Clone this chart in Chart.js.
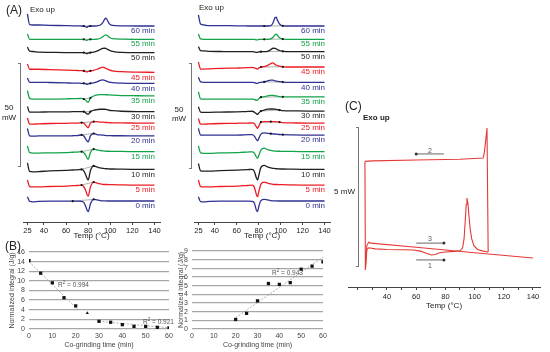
<!DOCTYPE html>
<html>
<head>
<meta charset="utf-8">
<script src="https://cdn.jsdelivr.net/npm/chart.js@4.4.0/dist/chart.umd.min.js"></script>
<style>
  body { margin: 0; background: #fff; }
  #wrap { position: relative; width: 550px; height: 352px; overflow: hidden; font-family: "Liberation Sans", Arial, sans-serif; color: #222; }
  canvas { position: absolute; left: 0; top: 0; }
  .t { position: absolute; white-space: nowrap; line-height: 1; }
  .br { position: absolute; border: 1.2px solid #777; border-left: none; width: 2px; }
</style>
</head>
<body>
<div id="wrap">
  <canvas id="aLeft" width="550" height="352"></canvas>
  <canvas id="aRight" width="550" height="352"></canvas>
  <canvas id="bLeft" width="550" height="352"></canvas>
  <canvas id="bRight" width="550" height="352"></canvas>
  <canvas id="cPanel" width="550" height="352"></canvas>

  <div class="t" style="left:6px;top:10px;transform:translateY(-50%);font-size:12px">(A)</div>
  <div class="t" style="left:30px;top:10px;transform:translateY(-50%);font-size:8px">Exo up</div>
  <div class="t" style="left:199px;top:8px;transform:translateY(-50%);font-size:8px">Exo up</div>
  <div class="br" style="left:18px;top:63px;height:102px"></div>
  <div class="t" style="left:9px;top:108px;transform:translate(-50%,-50%);font-size:8px">50</div>
  <div class="t" style="left:9px;top:118px;transform:translate(-50%,-50%);font-size:8px">mW</div>
  <div class="br" style="left:189px;top:63px;height:104px"></div>
  <div class="t" style="left:179px;top:110px;transform:translate(-50%,-50%);font-size:8px">50</div>
  <div class="t" style="left:179px;top:119px;transform:translate(-50%,-50%);font-size:8px">mW</div>

  <div class="t" style="left:5px;top:246px;transform:translateY(-50%);font-size:12px">(B)</div>
  <div class="t" style="left:58px;top:285px;transform:translateY(-50%);font-size:6.5px;color:#555">R<sup style="font-size:4.5px">2</sup> = 0.994</div>
  <div class="t" style="left:143px;top:322px;transform:translateY(-50%);font-size:6.5px;color:#555">R<sup style="font-size:4.5px">2</sup> = 0.921</div>
  <div class="t" style="left:272px;top:273px;transform:translateY(-50%);font-size:6.5px;color:#555">R<sup style="font-size:4.5px">2</sup> = 0.943</div>

  <div class="t" style="left:345px;top:106px;transform:translateY(-50%);font-size:12px">(C)</div>
  <div class="t" style="left:363px;top:118px;transform:translateY(-50%);font-size:8px;font-weight:bold">Exo up</div>
  <div class="br" style="left:356px;top:127px;height:138px"></div>
  <div class="t" style="right:195px;top:192px;transform:translateY(-50%);font-size:8px">5 mW</div>
  <div class="t" style="left:430px;top:150px;transform:translate(-50%,-50%);font-size:7px;color:#555">2</div>
  <div class="t" style="left:430px;top:238px;transform:translate(-50%,-50%);font-size:7px;color:#555">3</div>
  <div class="t" style="left:430px;top:265px;transform:translate(-50%,-50%);font-size:7px;color:#555">1</div>
</div>

<script>
// ---- panel A: DSC traces (heat flow in mW, stacked) ----
const TEMPS = [25, 27, 30, 35, 45, 60, 66, 70, 74, 76, 78, 79, 80, 82, 85, 88, 91, 93, 95, 96, 97, 99, 102, 110, 125, 140];
const TIMES = [0, 5, 10, 15, 20, 25, 30, 35, 40, 45, 50, 55, 60];
const TRACE_COLORS = ['#2e3192', '#ed1c24', '#231f20', '#13a34a', '#2e3192', '#ed1c24', '#231f20',
  '#13a34a', '#2e3192', '#ed1c24', '#231f20', '#13a34a', '#2e3192'];
const A_TICKS = [25, 40, 60, 80, 100, 120, 140];

const LEFT_BASE = [10.3, 18.1, 25.8, 34.5, 42.2, 48.5, 54.1, 61.8, 68.0, 73.4, 83.1, 89.6, 96.1];
const LEFT_DEV = [
  [2.1, -0.2, -0.4, -0.2, -0.1, -0.1, -0.1, -0.1, -0.2, -0.7, -3.0, -4.5, -5.2, -1.5, 0.8, 0.5, 0.2, 0.1, 0.1, 0.1, 0, 0, 0, 0, 0, 0],
  [2.5, -0.7, -0.9, -0.9, -0.7, -0.5, -0.3, -0.2, 0, -0.7, -3.0, -4.7, -5.4, -1.0, 1.5, 1.0, 0.6, 0.4, 0.3, 0.3, 0.3, 0.2, 0.2, 0.1, 0, 0],
  [3.2, -1.0, -1.2, -1.1, -0.7, -0.5, -0.3, -0.2, 0, -0.7, -3.0, -4.4, -5.2, -0.7, 1.7, 1.2, 0.7, 0.5, 0.4, 0.3, 0.3, 0.2, 0.2, 0.1, 0, 0],
  [2.8, -0.5, -0.7, -0.7, -0.6, -0.5, -0.3, -0.2, 0, -0.5, -2.0, -3.2, -3.7, -0.5, 1.2, 0.9, 0.5, 0.4, 0.3, 0.2, 0.2, 0.2, 0.1, 0.1, 0, 0],
  [3.7, 0, -0.1, 0, 0, 0, 0.1, 0.2, 0.5, 0, -1.7, -2.5, -2.9, 0, 1.2, 0.7, 0.5, 0.4, 0.3, 0.2, 0.2, 0.2, 0.1, 0.1, 0, 0],
  [2.5, -0.5, -0.5, -0.4, -0.2, -0.1, 0, 0, 0.2, 0, -1.2, -1.9, -2.2, 0, 0.7, 0.7, 0.5, 0.5, 0.4, 0.3, 0.3, 0.2, 0.1, 0.1, 0, 0],
  [2.5, -0.2, -0.2, -0.2, -0.1, -0.1, 0, 0, 0, 0, -0.7, -1.1, -1.2, 0, 0.7, 1.0, 1.2, 1.2, 1.2, 1.1, 1.0, 0.7, 0.5, 0.2, 0, 0],
  [2.6, -1.2, -1.5, -1.5, -1.5, -1.4, -1.3, -1.3, -1.2, -1.5, -2.2, -2.8, -3.1, -1.0, 0, 0.5, 0.7, 0.7, 0.7, 0.6, 0.6, 0.5, 0.4, 0.2, 0.1, 0],
  [2.6, 0.5, 0.5, 0.5, 0.4, 0.2, 0.1, 0.1, 0, 0, -0.3, -0.5, -0.3, 0, 0.2, 0.7, 1.5, 1.7, 1.5, 1.2, 1.0, 0.6, 0.3, 0.1, 0, 0],
  [4.1, 1.5, 1.5, 1.5, 1.3, 1.1, 1.0, 0.9, 0.8, 0.7, 0.3, 0.2, 0.4, 0.7, 1.0, 1.5, 2.2, 2.5, 2.2, 2.0, 1.7, 1.2, 0.7, 0.3, 0.1, 0],
  [2.7, 0.7, 0.5, 0.2, 0.1, 0, 0, 0, 0, 0, -0.4, -0.5, -0.3, 0, 0.2, 0.7, 1.5, 2.0, 2.1, 2.0, 1.7, 1.2, 0.6, 0.1, 0, 0],
  [2.6, 0, 0, 0, 0, 0, 0, 0, 0, 0, -0.4, -0.5, -0.2, 0, 0, 0.1, 0.5, 1.2, 2.0, 2.2, 2.0, 1.0, 0.3, 0.1, 0, 0],
  [5.9, 0.7, 0.5, 0.5, 0.3, 0.2, 0.1, 0.1, 0, 0, -0.5, -0.6, -0.2, 0, 0, 0.1, 0.5, 1.5, 3.4, 3.9, 3.2, 1.2, 0.3, 0.1, 0, 0]
];
const LEFT_MARKS = [[66, 85], [74, 85], [74, 85], [74, 85], [74, 85], [74, 85],
  [76, 82], [76, 82], [76, 82], [76, 82], [76, 82], [76, 82], [76, 82]];

const RIGHT_BASE = [10.3, 18.1, 25.8, 34.5, 42.6, 48.5, 54.4, 61.4, 68.5, 76.0, 83.5, 89.6, 96.1];
const RIGHT_DEV = [
  [2.1, -0.3, -0.4, -0.2, -0.1, -0.1, -0.1, -0.1, -0.2, -1.0, -4.7, -5.2, -2.9, 0.2, 0.8, 0.5, 0.2, 0.1, 0.1, 0.1, 0, 0, 0, 0, 0, 0],
  [2.5, -0.7, -0.9, -0.9, -0.7, -0.5, -0.3, -0.2, 0, -1.0, -4.9, -5.7, -3.4, 0.5, 1.5, 1.0, 0.6, 0.4, 0.3, 0.3, 0.3, 0.2, 0.2, 0.1, 0, 0],
  [2.9, -0.7, -0.9, -0.9, -0.6, -0.4, -0.2, -0.1, 0, -1.0, -4.4, -5.2, -3.2, 1.0, 2.0, 1.2, 0.7, 0.5, 0.4, 0.3, 0.3, 0.2, 0.2, 0.1, 0, 0],
  [2.8, -0.6, -0.8, -0.8, -0.6, -0.5, -0.3, -0.2, -0.1, -0.7, -2.7, -3.2, -2.0, 0.7, 1.7, 1.0, 0.6, 0.4, 0.3, 0.3, 0.2, 0.2, 0.1, 0.1, 0, 0],
  [3.3, 0, 0, 0, 0, 0, 0.1, 0.2, 0.2, -0.5, -2.2, -2.8, -1.7, 0.5, 1.1, 0.9, 0.7, 0.6, 0.5, 0.5, 0.4, 0.3, 0.2, 0.1, 0, 0],
  [2.3, -0.5, -0.5, -0.4, -0.2, -0.1, 0, 0, 0.1, -0.2, -2.0, -2.6, -1.5, 0.5, 0.7, 0.7, 0.7, 0.7, 0.7, 0.6, 0.6, 0.5, 0.2, 0.1, 0, 0],
  [2.1, -0.5, -0.6, -0.6, -0.5, -0.4, -0.3, -0.2, -0.1, -0.5, -1.4, -1.6, -1.0, 0, 0.5, 0.9, 1.0, 1.0, 0.9, 0.8, 0.7, 0.5, 0.2, 0.1, 0, 0],
  [2.5, -1.0, -1.1, -1.1, -1.1, -1.1, -1.1, -1.1, -1.1, -1.3, -1.7, -1.6, -1.0, -0.2, 0, 0.5, 0.7, 0.7, 0.5, 0.4, 0.3, 0.1, 0, 0, 0, 0],
  [2.5, 0.2, 0, 0, 0, 0, 0, 0, 0, -0.1, -0.5, -0.5, -0.2, 0, 0.2, 0.7, 1.1, 1.1, 0.7, 0.6, 0.5, 0.3, 0.1, 0, 0, 0],
  [2.5, -1.0, -1.0, -0.9, -0.7, -0.5, -0.4, -0.3, -0.2, -0.4, -0.8, -1.0, -0.5, 0, 0.2, 0.7, 1.7, 2.0, 1.2, 1.0, 0.7, 0.4, 0.1, 0, 0, 0],
  [2.5, 0.5, 0.4, 0.2, 0.1, 0, 0, 0, 0, -0.1, -0.3, -0.3, -0.1, 0, 0, 0.2, 1.0, 1.7, 1.6, 1.4, 1.1, 0.6, 0.2, 0, 0, 0],
  [2.6, 0.2, 0, 0, 0, 0, 0, 0, 0, 0, -0.3, -0.3, -0.1, 0, 0, 0, 0.2, 1.0, 2.2, 2.5, 2.0, 0.7, 0.1, 0, 0, 0],
  [5.4, 1.0, 0.5, 0.2, 0.2, 0.1, 0.1, 0, 0, 0, 0, 0, 0, 0, 0, 0, 0.2, 1.5, 4.2, 4.4, 2.9, 1.0, 0.1, 0, 0, 0]
];
const RIGHT_MARKS = [[], [], [], [], [91, 102], [82, 91, 99], [82, 99], [82, 102],
  [85, 102], [82, 102], [82, 102], [85, 102], [85, 102]];

// ---- panel B: normalized integrals vs co-grinding time ----
const B_TIMES = [0, 5, 10, 15, 20, 25, 30, 35, 40, 45, 50, 55, 60];
const B_ENDO = [14.2, 11.6, 9.6, 6.5, 4.8, 3.3, 1.6, 1.4, 0.9, 0.55, 0.55, 0.35, 0.25];
const B_FIT1_X = [0, 21];
const B_FIT1_Y = [14.0, 4.0];
const B_FIT2_X = [30, 60];
const B_FIT2_Y = [1.6, 0.25];
const B_EXO_TIMES = [20, 25, 30, 35, 40, 45, 50, 55, 60];
const B_EXO = [1.1, 1.8, 3.25, 5.25, 5.15, 5.35, 6.9, 7.25, 7.75];
const B_FIT3_X = [20, 60];
const B_FIT3_Y = [1.3, 8.3];

// ---- panel C: heat / cool / heat cycle ----
const HEAT1_T = [25.2, 26.2, 27.5, 32, 40, 50, 58, 63, 67, 70.5, 73, 76, 80, 86, 90, 91.8, 92.8, 93.6, 94.3, 94.8, 95.4, 96.2, 97, 98, 99.5, 102, 106, 109.3];
const HEAT1_Y = [0.62, 1.35, 1.42, 1.38, 1.36, 1.35, 1.34, 1.3, 1.22, 1.16, 1.18, 1.24, 1.27, 1.29, 1.31, 1.42, 1.75, 2.4, 3.0, 3.22, 3.05, 2.55, 2.1, 1.75, 1.5, 1.36, 1.3, 1.27];
const COOL2_T = [109.3, 108.5, 107.5, 106.5, 105.8, 90, 60, 30, 24.9];
const COOL2_Y = [1.27, 5.76, 5.25, 4.8, 4.67, 4.63, 4.6, 4.57, 4.55];
const HEAT3_T = [24.9, 25.2, 26.2, 27.5, 29, 60, 100, 140];
const HEAT3_Y = [4.55, 0.62, 1.5, 1.62, 1.59, 1.44, 1.24, 1.05];
const ARROW_T = [60, 79];
const ARROW2_Y = 4.82;
const ARROW3_Y = 1.59;
const ARROW1_Y = 0.98;
const C_TICKS = [20, 30, 40, 50, 60, 70, 80, 90, 100, 110, 120, 130, 140];

Chart.defaults.font.family = '"Liberation Sans", Arial, sans-serif';

const base = (padding) => ({
  responsive: false,
  animation: false,
  devicePixelRatio: 1,
  layout: { padding },
  plugins: { legend: { display: false }, tooltip: { enabled: false } }
});

function dscDatasets(baseline, dev, marks) {
  const sets = [];
  baseline.forEach((b, i) => {
    const pts = TEMPS.map((t, k) => ({ x: t, y: b + dev[i][k] }));
    sets.push({
      data: pts,
      borderColor: TRACE_COLORS[i],
      borderWidth: 1.3,
      cubicInterpolationMode: 'monotone',
      pointRadius: (ctx) => marks[i].includes(TEMPS[ctx.dataIndex]) ? 1.1 : 0,
      pointBackgroundColor: '#111',
      pointBorderWidth: 0
    });
    if (marks[i].length > 1) {
      const ends = [marks[i][0], marks[i][marks[i].length - 1]];
      sets.push({
        data: ends.map((t) => ({ ...pts[TEMPS.indexOf(t)] })),
        borderColor: '#8c8c8c',
        borderWidth: 0.7,
        pointRadius: 0
      });
    }
  });
  return sets;
}

function dscChart(id, baseline, dev, marks, left, right) {
  const opts = base({ left: left, right: 550 - right, top: 4, bottom: 352 - 222 - 19 });
  opts.scales = {
    x: {
      type: 'linear', min: 21, max: 145,
      afterBuildTicks: (s) => { s.ticks = A_TICKS.map((v) => ({ value: v })); },
      afterFit: (s) => { s.height = 19; s.paddingLeft = 0; s.paddingRight = 0; },
      grid: { drawOnChartArea: false, drawTicks: true, tickLength: 3, color: '#444', lineWidth: 1 },
      border: { display: true, color: '#444', width: 1 },
      ticks: { font: { size: 7.5 }, color: '#222', padding: 1, maxRotation: 0, autoSkip: false },
      title: { display: true, text: 'Temp (°C)', font: { size: 8 }, color: '#222', padding: 0 }
    },
    y: { display: false, min: 0, max: 106.9 }
  };
  return new Chart(document.getElementById(id), {
    type: 'line',
    data: { datasets: dscDatasets(baseline, dev, marks) },
    options: opts
  });
}

function addTraceLabels(chart, baseline) {
  const wrap = document.getElementById('wrap');
  const xs = chart.scales.x;
  const ys = chart.scales.y;
  baseline.forEach((b, i) => {
    const d = document.createElement('div');
    d.className = 't';
    d.textContent = TIMES[i] + ' min';
    d.style.color = TRACE_COLORS[i];
    d.style.fontSize = '8px';
    d.style.right = (550 - xs.getPixelForValue(140) - 0.5) + 'px';
    d.style.top = (ys.getPixelForValue(b) + 5.2) + 'px';
    d.style.transform = 'translateY(-50%)';
    wrap.appendChild(d);
  });
}

const aLeft = dscChart('aLeft', LEFT_BASE, LEFT_DEV, LEFT_MARKS, 23, 160);
const aRight = dscChart('aRight', RIGHT_BASE, RIGHT_DEV, RIGHT_MARKS, 194, 330);
addTraceLabels(aLeft, LEFT_BASE);
addTraceLabels(aRight, RIGHT_BASE);

// ---- B charts ----
function integralChart(id, padding, yAxisWidth, yMax, yStep, points, fits) {
  const datasets = [{
    data: points,
    showLine: false,
    pointStyle: (ctx) => (id === 'bLeft' && ctx.dataIndex === 5) ? 'triangle' : 'rect',
    pointRadius: (ctx) => (id === 'bLeft' && ctx.dataIndex === 5) ? 1.8 : 2.3,
    pointBackgroundColor: '#111',
    pointBorderWidth: 0
  }];
  fits.forEach((f) => {
    datasets.push({
      data: f,
      showLine: true,
      borderColor: '#9a9a9a',
      borderWidth: 0.8,
      borderDash: [2, 1.5],
      pointRadius: 0
    });
  });
  const opts = base(padding);
  opts.scales = {
    x: {
      type: 'linear', min: 0, max: 60,
      ticks: { stepSize: 10, font: { size: 7 }, color: '#444', padding: 3, maxRotation: 0, autoSkip: false },
      grid: { display: false, drawTicks: false },
      border: { display: false },
      afterFit: (s) => { s.height = 20; s.paddingLeft = 0; s.paddingRight = 0; },
      title: { display: true, text: 'Co-grinding time (min)', font: { size: 7 }, color: '#444', padding: 0 }
    },
    y: {
      min: 0, max: yMax,
      ticks: { stepSize: yStep, font: { size: 7 }, color: '#444', padding: 4, autoSkip: false },
      grid: { color: '#a6a6a6', lineWidth: 1.3, drawTicks: false },
      border: { display: false },
      afterFit: (s) => { s.width = yAxisWidth; },
      title: { display: true, text: 'Normalized integral (J/g)', font: { size: 7 }, color: '#444', padding: { top: 1, bottom: 0 } }
    }
  };
  return new Chart(document.getElementById(id), { type: 'scatter', data: { datasets }, options: opts });
}

integralChart('bLeft', { left: 7, right: 550 - 169, top: 252, bottom: 3 }, 22, 16, 2,
  B_TIMES.map((t, i) => ({ x: t, y: B_ENDO[i] })),
  [B_FIT1_X.map((t, i) => ({ x: t, y: B_FIT1_Y[i] })), B_FIT2_X.map((t, i) => ({ x: t, y: B_FIT2_Y[i] }))]);

integralChart('bRight', { left: 176, right: 550 - 323, top: 251, bottom: 3 }, 16, 9, 1,
  B_EXO_TIMES.map((t, i) => ({ x: t, y: B_EXO[i] })),
  [B_FIT3_X.map((t, i) => ({ x: t, y: B_FIT3_Y[i] }))]);

// ---- C chart ----
const curve = (ts, ys) => ts.map((t, i) => ({ x: t, y: ys[i] }));
const arrow = (y, dotAtStart) => ({
  data: ARROW_T.map((t) => ({ x: t, y })),
  borderColor: '#666',
  borderWidth: 1,
  pointRadius: dotAtStart ? [1.5, 0] : [0, 1.5],
  pointBackgroundColor: '#333',
  pointBorderWidth: 0
});
const cOpts = base({ left: 348, right: 10, top: 120, bottom: 352 - 287 - 24 });
cOpts.scales = {
  x: {
    type: 'linear', min: 13.3, max: 144.8,
    afterBuildTicks: (s) => { s.ticks = C_TICKS.map((v) => ({ value: v })); },
    afterFit: (s) => { s.height = 24; s.paddingLeft = 0; s.paddingRight = 0; },
    grid: { drawOnChartArea: false, drawTicks: true, tickLength: 3, color: '#444', lineWidth: 1 },
    border: { display: true, color: '#444', width: 1 },
    ticks: {
      font: { size: 7.5 }, color: '#222', padding: 2, maxRotation: 0, autoSkip: false,
      callback: (v) => (v >= 40 && v % 20 === 0) ? String(v) : ''
    },
    title: { display: true, text: 'Temp (°C)', font: { size: 8 }, color: '#222', padding: 0 }
  },
  y: { display: false, min: 0, max: 6.05 }
};
new Chart(document.getElementById('cPanel'), {
  type: 'line',
  data: {
    datasets: [
      { data: curve(HEAT1_T, HEAT1_Y), borderColor: '#e53935', borderWidth: 1.1, pointRadius: 0, tension: 0 },
      { data: curve(COOL2_T, COOL2_Y), borderColor: '#e53935', borderWidth: 1.1, pointRadius: 0, tension: 0 },
      { data: curve(HEAT3_T, HEAT3_Y), borderColor: '#e53935', borderWidth: 1.1, pointRadius: 0, tension: 0 },
      arrow(ARROW2_Y, true),
      arrow(ARROW3_Y, false),
      arrow(ARROW1_Y, false)
    ]
  },
  options: cOpts
});
</script>
</body>
</html>
